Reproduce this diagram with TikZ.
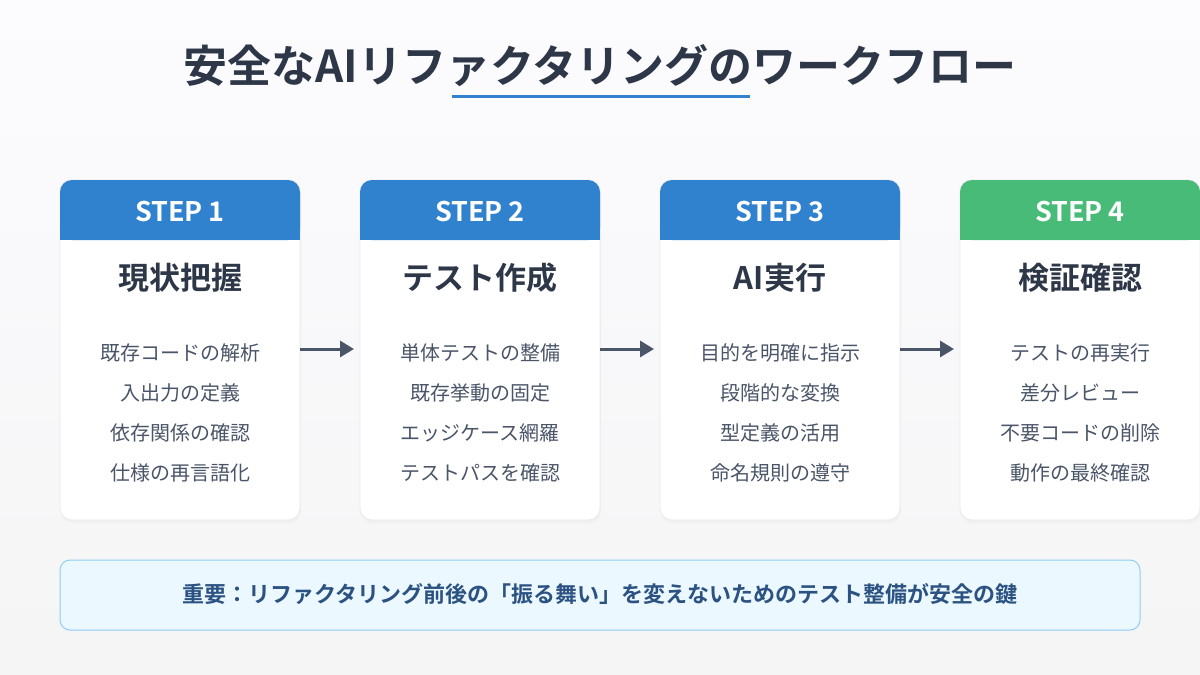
\documentclass[tikz,border=0pt]{standalone}
\usepackage{fontspec}
\setmainfont{Noto Sans CJK JP}[BoldFont={* Bold}]
\usetikzlibrary{arrows.meta,shadows}
\definecolor{hblue}{HTML}{3182CE}
\definecolor{hgreen}{HTML}{48BB78}
\definecolor{dark}{HTML}{2D3748}
\definecolor{itemc}{HTML}{4A5568}
\definecolor{boxfill}{HTML}{EBF8FF}
\definecolor{boxline}{HTML}{90CDF4}
\definecolor{boxtext}{HTML}{2C5282}
\tikzset{
  card/.style={fill=white,draw=black!8,line width=0.8pt,rounded corners=12pt},
  hdr/.style={text=white,font=\fontsize{27}{30}\selectfont\bfseries},
  ctitle/.style={text=dark,font=\fontsize{31}{34}\selectfont\bfseries},
  item/.style={text=itemc,font=\fontsize{20}{24}\selectfont},
  flow/.style={draw=itemc,line width=3pt,-{Triangle[length=14pt,width=16pt]}}
}
\begin{document}
\begin{tikzpicture}[x=1pt,y=-1pt]
\shade[top color=white!60!blue!3,bottom color=blue!4!black!4] (0,0) rectangle (1200,675);
\useasboundingbox (0,0) rectangle (1200,675);
\node[text=dark,font=\fontsize{44}{48}\selectfont\bfseries] (title) at (600,66) {安全なAIリファクタリングのワークフロー};
\draw[hblue,line width=3pt] (452,96) -- (750,96);
\foreach \i/\x/\col/\t/\a/\b/\c/\d in {
 1/60/hblue/現状把握/既存コードの解析/入出力の定義/依存関係の確認/仕様の再言語化,
 2/360/hblue/テスト作成/単体テストの整備/既存挙動の固定/エッジケース網羅/テストパスを確認,
 3/660/hblue/AI実行/目的を明確に指示/段階的な変換/型定義の活用/命名規則の遵守,
 4/960/hgreen/検証確認/テストの再実行/差分レビュー/不要コードの削除/動作の最終確認}{
 \fill[black!6,rounded corners=12pt] (\x+1,183) rectangle (\x+241,523);
 \draw[card] (\x,180) rectangle (\x+240,520);
 \fill[\col,rounded corners=12pt] (\x,180) rectangle (\x+240,240);
 \fill[\col] (\x,220) rectangle (\x+240,240);
 \node[hdr] (h\i) at (\x+120,212) {STEP \i};
 \node[ctitle] (t\i) at (\x+120,278) {\t};
 \node[item] (a\i) at (\x+120,353) {\a};
 \node[item] (b\i) at (\x+120,393) {\b};
 \node[item] (c\i) at (\x+120,433) {\c};
 \node[item] (d\i) at (\x+120,473) {\d};
}
\coordinate (s1) at (300,349); \coordinate (e1) at (354,349);
\coordinate (s2) at (600,349); \coordinate (e2) at (654,349);
\coordinate (s3) at (900,349); \coordinate (e3) at (954,349);
\draw[flow] (s1) -- (e1);
\draw[flow] (s2) -- (e2);
\draw[flow] (s3) -- (e3);
\draw[fill=boxfill,draw=boxline,line width=1pt,rounded corners=10pt] (60,560) rectangle (1140,630);
\node[text=boxtext,font=\fontsize{22}{26}\selectfont\bfseries] (note) at (600,594) {重要：リファクタリング前後の「振る舞い」を変えないためのテスト整備が安全の鍵};
\end{tikzpicture}
\end{document}
